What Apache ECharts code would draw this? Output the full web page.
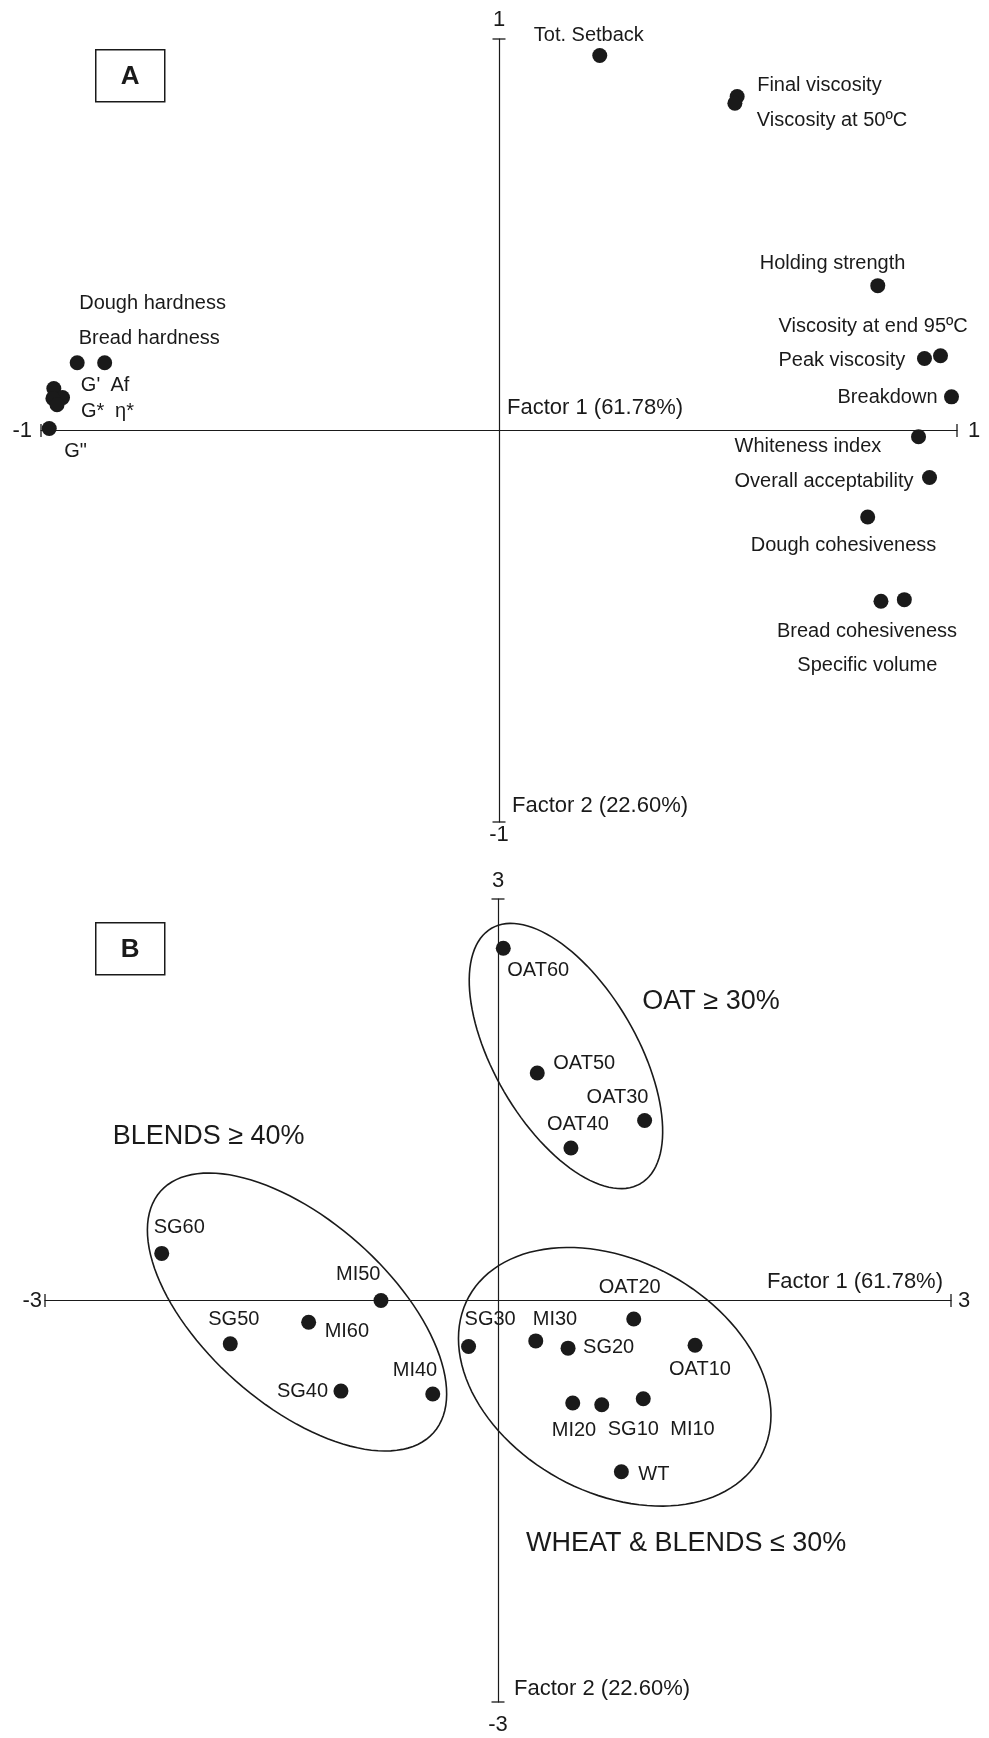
<!DOCTYPE html>
<html>
<head>
<meta charset="utf-8">
<title>PCA factor 1 / factor 2</title>
<script src="https://cdn.jsdelivr.net/npm/echarts@6/dist/echarts.min.js"></script>
<style>
  html, body { margin: 0; padding: 0; background: #fff; }
  #chart { width: 989px; height: 1738px; }
</style>
</head>
<body>
<div id="chart"></div>
<script>
// ---- data ----
// A: loadings of the variables
const varNames = ['Tot. Setback', 'Final viscosity', 'Viscosity at 50ºC', 'Holding strength',
  'Viscosity at end 95ºC', 'Peak viscosity', 'Breakdown', 'Whiteness index',
  'Overall acceptability', 'Dough cohesiveness', 'Bread cohesiveness', 'Specific volume',
  'Dough hardness', 'Bread hardness', "G'", 'Af', 'G*', 'η*', 'G"']
const varF1 = [0.22, 0.52, 0.515, 0.827, 0.964, 0.929, 0.988, 0.916, 0.94, 0.805, 0.834, 0.885,
  -0.921, -0.861, -0.972, -0.953, -0.974, -0.965, -0.982]
const varF2 = [0.958, 0.853, 0.836, 0.37, 0.191, 0.184, 0.086, -0.016, -0.12, -0.221, -0.436, -0.432,
  0.173, 0.173, 0.107, 0.084, 0.082, 0.066, 0.005]

// B: scores of the samples
const sampleNames = ['OAT60', 'OAT50', 'OAT30', 'OAT40', 'SG60', 'MI50', 'MI60', 'SG50', 'SG40', 'MI40',
  'SG30', 'MI30', 'SG20', 'OAT20', 'OAT10', 'MI20', 'SG10', 'MI10', 'WT']
const sampleF1 = [0.035, 0.26, 0.971, 0.483, -2.227, -0.775, -1.254, -1.773, -1.04, -0.432,
  -0.195, 0.25, 0.464, 0.899, 1.305, 0.495, 0.687, 0.962, 0.817]
const sampleF2 = [2.632, 1.7, 1.345, 1.139, 0.352, 0.0, -0.162, -0.324, -0.677, -0.699,
  -0.344, -0.302, -0.356, -0.138, -0.334, -0.766, -0.779, -0.734, -1.28]

// groups: ellipse centre and two conjugate semi-axes, in factor units
const groupNames = ['OAT ≥ 30%', 'BLENDS ≥ 40%', 'WHEAT & BLENDS ≤ 30%']
const groupCentre = [[0.45, 1.827], [-1.331, -0.086], [0.773, -0.57]]
const groupAxisU = [[0.493, -0.954], [0.904, -0.902], [0.966, -0.598]]
const groupAxisV = [[-0.409, -0.268], [-0.406, -0.515], [-0.371, -0.759]]

const ticksA = [-1, 1]
const ticksB = [-3, 3]
const factorNames = ['Factor 1 (61.78%)', 'Factor 2 (22.60%)']

// ---- label placement (px from the dot, left edge / middle of text) ----
const varLabelPos = [[-66, -20], [20, -11], [22, 17], [-118, -22], [-162, -29], [-146, 2], [-114, 1],
  [-184, 10], [-195, 4], [-117, 28], [-104, 30], [-107, 66], [2, -59], [-26, -24],
  [27, -3], [48, -12], [28, 13], [58, 7], [15, 23]]
const sampleLabelPos = [[4, 22], [16, -9], [-58, -23], [-24, -24], [-8, -26], [-45, -26], [16, 9],
  [-22, -24], [-64, 0], [-40, -24], [-4, -27], [-3, -21], [15, -1], [-35, -31], [-26, 24],
  [-21, 27], [6, 25], [27, 31], [17, 3]]
// group captions, in factor units
const groupLabelAt = [[0.956, 2.234], [-2.552, 1.228], [0.185, -1.814]]

const FONT = "'Liberation Sans', Arial, Helvetica, sans-serif"
const INK = '#1a1a1a'

const gridA = { left: 41, top: 39, width: 916, height: 783 }
const gridB = { left: 45, top: 899, width: 906, height: 803 }

const axisLineStyle = { color: INK, width: 1.2 }

function pointLabel(size) {
  return {
    show: true, position: 'inside', align: 'left', verticalAlign: 'middle',
    formatter: '{b}', color: INK, fontSize: size, fontFamily: FONT
  }
}

// axes cross in the middle of the grid (ranges are symmetric about 0)
function makeAxes(gridIndex, grid, ticks, opt) {
  const x = {
    gridIndex, type: 'value', min: ticks[0], max: ticks[1],
    position: opt.xPos, offset: -grid.height / 2,
    name: factorNames[0], nameLocation: opt.xNameLoc, nameGap: opt.xNameGap,
    nameTextStyle: Object.assign({ color: INK, fontSize: 22, fontFamily: FONT }, opt.xNameStyle),
    axisLine: { onZero: false, lineStyle: axisLineStyle, symbol: ['rect', 'rect'], symbolSize: [13, 1.3] },
    axisTick: { show: false },
    splitLine: { show: false },
    axisLabel: {
      customValues: ticks, showMinLabel: true, showMaxLabel: true,
      color: INK, fontSize: 22, fontFamily: FONT, margin: 0,
      verticalAlign: 'middle', alignMinLabel: 'right', alignMaxLabel: 'left',
      padding: opt.xLabelPad
    }
  }
  const y = {
    gridIndex, type: 'value', min: ticks[0], max: ticks[1],
    position: 'left', offset: -grid.width / 2,
    name: factorNames[1], nameLocation: 'start', nameGap: opt.yNameGap,
    nameTextStyle: { color: INK, fontSize: 22, fontFamily: FONT, align: 'left', verticalAlign: 'middle', padding: [0, 0, 0, opt.yNamePad] },
    axisLine: { onZero: false, lineStyle: axisLineStyle, symbol: ['rect', 'rect'], symbolSize: [13, 1.3] },
    axisTick: { show: false },
    splitLine: { show: false },
    axisLabel: {
      customValues: ticks, showMinLabel: true, showMaxLabel: true,
      color: INK, fontSize: 22, fontFamily: FONT, margin: 0, align: 'center',
      verticalAlignMinLabel: 'top', verticalAlignMaxLabel: 'bottom',
      padding: opt.yLabelPad
    }
  }
  return [x, y]
}

const axesA = makeAxes(0, gridA, ticksA, {
  xPos: 'top', xNameLoc: 'middle', xNameGap: 12,
  xNameStyle: { align: 'left', verticalAlign: 'middle', padding: [0, 0, 0, 8] },
  xLabelPad: [0, 9, 0, 11],
  yNameGap: -16, yNamePad: 13, yLabelPad: [2, 0, 8, 0]
})
const axesB = makeAxes(1, gridB, ticksB, {
  xPos: 'bottom', xNameLoc: 'end', xNameGap: -8,
  xNameStyle: { align: 'right', verticalAlign: 'bottom', padding: [0, 0, 8, 0] },
  xLabelPad: [0, 3, 0, 7],
  yNameGap: -13, yNamePad: 16, yLabelPad: [12, 0, 7, 0]
})

function panelBox(letter, top) {
  return {
    type: 'group', left: 95, top: top,
    children: [
      { type: 'rect', shape: { x: 0, y: 0, width: 69, height: 52 }, style: { fill: '#fff', stroke: INK, lineWidth: 1.5 } },
      { type: 'text', x: 34.5, y: 27, style: { text: letter, fill: INK, font: 'bold 26px ' + FONT, align: 'center', verticalAlign: 'middle' } }
    ]
  }
}

const chart = echarts.init(document.getElementById('chart'), null, { renderer: 'canvas' })

chart.setOption({
  backgroundColor: '#fff',
  animation: false,
  grid: [gridA, gridB],
  xAxis: [axesA[0], axesB[0]],
  yAxis: [axesA[1], axesB[1]],
  graphic: [panelBox('A', 49), panelBox('B', 922)],
  series: [
    {
      // variables
      type: 'scatter', xAxisIndex: 0, yAxisIndex: 0, silent: true,
      symbolSize: 15, itemStyle: { color: INK, opacity: 1 },
      label: pointLabel(20),
      data: varNames.map((name, i) => ({
        name, value: [varF1[i], varF2[i]], label: { offset: varLabelPos[i] }
      }))
    },
    {
      // group ellipses
      type: 'custom', xAxisIndex: 1, yAxisIndex: 1, silent: true, clip: false,
      data: groupNames.map((g, i) => [groupCentre[i][0], groupCentre[i][1],
        groupAxisU[i][0], groupAxisU[i][1], groupAxisV[i][0], groupAxisV[i][1]]),
      renderItem: function (params, api) {
        const pts = []
        for (let k = 0; k <= 120; k++) {
          const t = k / 120 * Math.PI * 2
          pts.push(api.coord([
            api.value(0) + api.value(2) * Math.cos(t) + api.value(4) * Math.sin(t),
            api.value(1) + api.value(3) * Math.cos(t) + api.value(5) * Math.sin(t)
          ]))
        }
        return { type: 'polygon', shape: { points: pts }, style: { fill: 'none', stroke: INK, lineWidth: 1.6 } }
      }
    },
    {
      // samples
      type: 'scatter', xAxisIndex: 1, yAxisIndex: 1, silent: true,
      symbolSize: 15, itemStyle: { color: INK, opacity: 1 },
      label: pointLabel(20),
      data: sampleNames.map((name, i) => ({
        name, value: [sampleF1[i], sampleF2[i]], label: { offset: sampleLabelPos[i] }
      }))
    },
    {
      // group captions
      type: 'scatter', xAxisIndex: 1, yAxisIndex: 1, silent: true,
      symbolSize: 0, itemStyle: { color: INK, opacity: 1 },
      label: pointLabel(27),
      data: groupNames.map((name, i) => ({ name, value: groupLabelAt[i] }))
    }
  ]
})
</script>
</body>
</html>
